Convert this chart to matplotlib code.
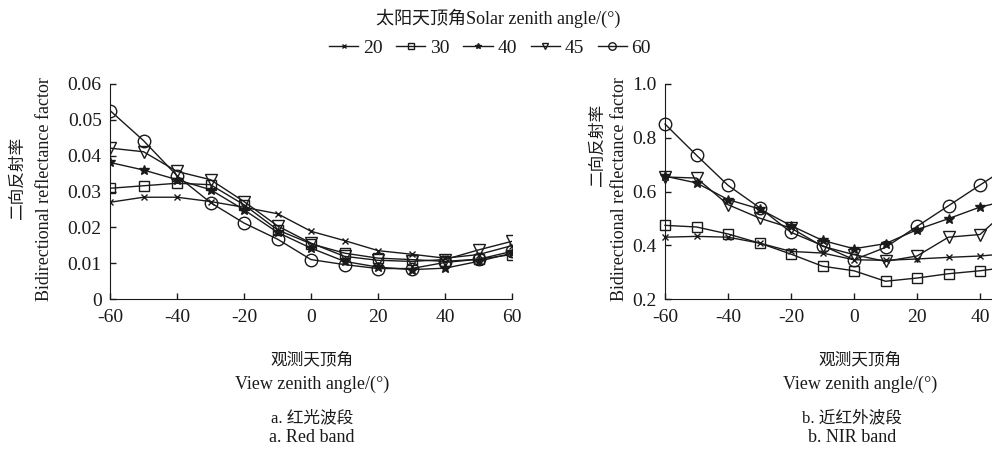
import matplotlib
matplotlib.use('Agg')
import matplotlib.pyplot as plt

plt.rcParams['font.family'] = ['Liberation Serif', 'Noto Sans CJK SC']
plt.rcParams['axes.unicode_minus'] = False

view_angle = [-60, -50, -40, -30, -20, -10, 0, 10, 20, 30, 40, 50, 60]
sun_angles = ['20', '30', '40', '45', '60']

# red band BRF, one list per solar zenith angle
red_20 = [0.0270, 0.0284, 0.0284, 0.0272, 0.0256, 0.0238, 0.0189, 0.0163, 0.0135, 0.0125, 0.0114, 0.0124, 0.0149]
red_30 = [0.0309, 0.0316, 0.0323, 0.0319, 0.0263, 0.0193, 0.0154, 0.0128, 0.0114, 0.0110, 0.0105, 0.0111, 0.0124]
red_40 = [0.0381, 0.0360, 0.0333, 0.0305, 0.0249, 0.0186, 0.0142, 0.0105, 0.0089, 0.0082, 0.0086, 0.0105, 0.0128]
red_45 = [0.0421, 0.0411, 0.0356, 0.0333, 0.0272, 0.0204, 0.0156, 0.0119, 0.0108, 0.0105, 0.0110, 0.0137, 0.0161]
red_60 = [0.0526, 0.0442, 0.0344, 0.0269, 0.0212, 0.0167, 0.0110, 0.0096, 0.0085, 0.0085, 0.0102, 0.0111, 0.0133]

# NIR band BRF
nir_20 = [0.430, 0.433, 0.430, 0.408, 0.377, 0.371, 0.346, 0.344, 0.349, 0.355, 0.360, 0.370, 0.380]
nir_30 = [0.474, 0.468, 0.442, 0.408, 0.367, 0.322, 0.305, 0.266, 0.278, 0.294, 0.305, 0.320, 0.330]
nir_40 = [0.657, 0.632, 0.570, 0.535, 0.473, 0.418, 0.387, 0.406, 0.458, 0.499, 0.542, 0.570, 0.600]
nir_45 = [0.654, 0.650, 0.551, 0.501, 0.464, 0.396, 0.365, 0.340, 0.360, 0.430, 0.440, 0.545, 0.600]
nir_60 = [0.851, 0.735, 0.623, 0.540, 0.448, 0.399, 0.346, 0.392, 0.470, 0.547, 0.624, 0.700, 0.750]

markers = ['x', 's', '*', 'v', 'o']
msizes = [5, 6.5, 7, 8, 9]
ink = '#1a1a1a'

fig = plt.figure(figsize=(9.92, 4.51), dpi=100)
ax1 = fig.add_axes([110/992, 1 - 299/451, 402/992, 215/451])
ax2 = fig.add_axes([665/992, 1 - 299/451, 378/992, 215/451])

red = [red_20, red_30, red_40, red_45, red_60]
nir = [nir_20, nir_30, nir_40, nir_45, nir_60]

for i in range(5):
    fill = ink if markers[i] == '*' else 'none'
    ax1.plot(view_angle, red[i], color=ink, lw=1.0, marker=markers[i], ms=msizes[i],
             mfc=fill, mec=ink, mew=1.0, label=sun_angles[i])
    ax2.plot(view_angle, nir[i], color=ink, lw=1.0, marker=markers[i], ms=msizes[i],
             mfc=fill, mec=ink, mew=1.0, clip_on=False)

ax1.set_xlim(-60, 60)
ax1.set_ylim(0, 0.06)
ax1.set_xticks([-60, -40, -20, 0, 20, 40, 60])
ax1.set_yticks([0, 0.01, 0.02, 0.03, 0.04, 0.05, 0.06])
ax1.set_yticklabels(['0', '0.01', '0.02', '0.03', '0.04', '0.05', '0.06'])
ax2.set_xlim(-60, 60)
ax2.set_ylim(0.2, 1.0)
ax2.set_xticks([-60, -40, -20, 0, 20, 40])  # the 60 end lies past the page edge
ax2.set_yticks([0.2, 0.4, 0.6, 0.8, 1.0])
ax2.set_yticklabels(['0.2', '0.4', '0.6', '0.8', '1.0'])

for ax in (ax1, ax2):
    ax.spines['top'].set_visible(False)
    ax.spines['right'].set_visible(False)
    ax.spines['left'].set_color(ink)
    ax.spines['bottom'].set_color(ink)
    ax.tick_params(direction='in', length=4, width=1, colors=ink, labelsize=14)
    ax.tick_params(axis='x', pad=7)
    ax.tick_params(axis='y', pad=6)
    ax.patch.set_alpha(0)

# axis texts
fig.text(18/992, 1 - 178/451, '二向反射率', rotation=90, ha='center', va='center', fontsize=12, color=ink)
fig.text(45/992, 1 - 189/451, 'Bidirectional reflectance factor', rotation=90, ha='center', va='center', fontsize=13, color=ink)
fig.text(598/992, 1 - 145/451, '二向反射率', rotation=90, ha='center', va='center', fontsize=12, color=ink)
fig.text(620/992, 1 - 189/451, 'Bidirectional reflectance factor', rotation=90, ha='center', va='center', fontsize=13, color=ink)

fig.text(312/992, 1 - 360/451, '观测天顶角', ha='center', va='center', fontsize=12, color=ink)
fig.text(312/992, 1 - 384/451, 'View zenith angle/(°)', ha='center', va='center', fontsize=13, color=ink)
fig.text(312/992, 1 - 418/451, 'a. 红光波段', ha='center', va='center', fontsize=12, color=ink)
fig.text(312/992, 1 - 437/451, 'a. Red band', ha='center', va='center', fontsize=13, color=ink)

fig.text(860/992, 1 - 360/451, '观测天顶角', ha='center', va='center', fontsize=12, color=ink)
fig.text(860/992, 1 - 384/451, 'View zenith angle/(°)', ha='center', va='center', fontsize=13, color=ink)
fig.text(852/992, 1 - 418/451, 'b. 近红外波段', ha='center', va='center', fontsize=12, color=ink)
fig.text(852/992, 1 - 437/451, 'b. NIR band', ha='center', va='center', fontsize=13, color=ink)

fig.text(498/992, 1 - 18/451, '太阳天顶角Solar zenith angle/(°)', ha='center', va='center', fontsize=13, color=ink)
h, l = ax1.get_legend_handles_labels()
leg = fig.legend(h, l, loc='center', bbox_to_anchor=(490/992, 1 - 48/451), ncol=5, frameon=False,
                 fontsize=14, handlelength=1.5, handletextpad=0.25, columnspacing=0.7, markerscale=0.6)
for t in leg.get_texts():
    t.set_color(ink)

fig.savefig('out.png', dpi=100)
